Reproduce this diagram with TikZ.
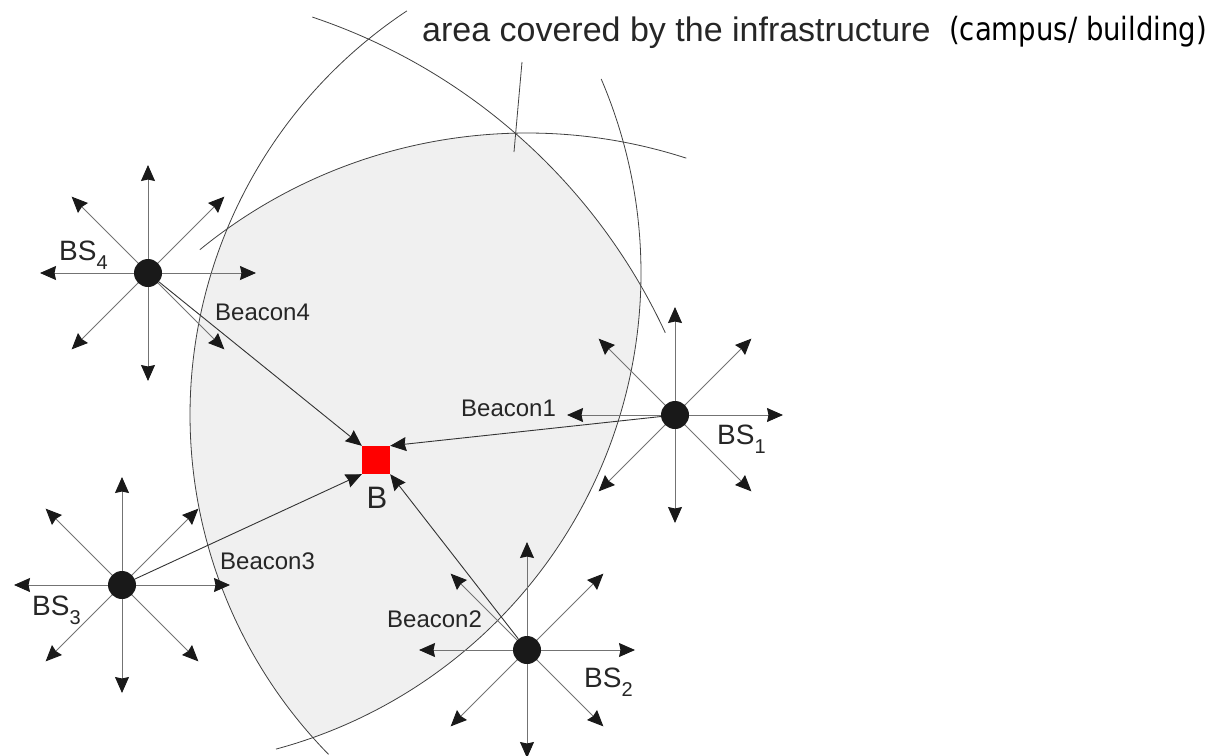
\documentclass[tikz,border=0pt]{standalone}
\usepackage{fontspec}
\setmainfont{Liberation Sans}
\newfontfamily\tahomalike{DejaVu Sans}
\usetikzlibrary{arrows.meta}
\newcommand\bssub[1]{\raisebox{-9pt}{\fontsize{20}{20}\selectfont #1}}
\begin{document}
\begin{tikzpicture}[x=1pt,y=1pt,
  arcline/.style={draw=black!75, line width=0.8pt},
  ray/.style={draw=black!55, line width=0.9pt, -{Stealth[length=16pt,width=14pt,inset=1.5pt,color=black!90]}},
  beacon/.style={draw=black!80, line width=0.9pt, -{Stealth[length=16pt,width=14pt,inset=1.5pt,color=black!90]}},
  bsdot/.style={circle, fill=black!90, minimum size=28pt, inner sep=0pt},
  lbl/.style={font=\fontsize{24}{24}\selectfont, text=black!85, anchor=base west, inner sep=0pt},
  bslbl/.style={font=\fontsize{28}{28}\selectfont, text=black!85, anchor=base west, inner sep=0pt},
]
\useasboundingbox (0,0) rectangle (1222,-755);

% shaded coverage area: intersection of the four discs
\begin{scope}
  \clip (675,-415) circle[radius=485pt];
  \clip (122,-585) circle[radius=599pt];
  \clip (527,-650) circle[radius=517pt];
  \fill[black!6] (148,-273) circle[radius=493pt];
\end{scope}

% circle arcs
\draw[arcline] (675,-415) ++(123.56:485pt) arc[start angle=123.56, end angle=224.41, radius=485pt];
\draw[arcline] (122,-585) ++(71.47:599pt) arc[start angle=71.47, end angle=24.90, radius=599pt];
\draw[arcline] (527,-650) ++(129.26:517pt) arc[start angle=129.26, end angle=72.06, radius=517pt];
\draw[arcline] (148,-273) ++(23.18:493pt) arc[start angle=23.18, end angle=-74.95, radius=493pt];
\draw[arcline] (522,-62) -- (514,-152);

% base station centres
\coordinate (c1) at (675,-415);
\coordinate (c2) at (527,-650);
\coordinate (c3) at (122,-585);
\coordinate (c4) at (148,-273);

% radiating arrows
\foreach \n in {c1,c2,c3,c4}
  \foreach \a in {0,45,...,315}
    \draw[ray] (\n) -- ++(\a:108pt);

% dots
\node[bsdot] (bs1) at (c1) {};
\node[bsdot] (bs2) at (c2) {};
\node[bsdot] (bs3) at (c3) {};
\node[bsdot] (bs4) at (c4) {};

% target
\node[fill=red, minimum size=28pt, inner sep=0pt] (B) at (376,-460) {};

% beacons
\draw[beacon] (bs4) -- (B.north west);
\draw[beacon] (bs1) -- (B.north east);
\draw[beacon] (bs3) -- (B.south west);
\draw[beacon] (bs2) -- (B.south east);

% labels
\node[bslbl] (l4) at (59,-260) {BS\bssub{4}};
\node[bslbl] (l1) at (717,-444) {BS\bssub{1}};
\node[bslbl] (l3) at (32,-615) {BS\bssub{3}};
\node[bslbl] (l2) at (584,-687) {BS\bssub{2}};
\node[lbl] (b4) at (215,-320) {Beacon4};
\node[lbl] (b1) at (461,-416) {Beacon1};
\node[lbl] (b3) at (220,-569) {Beacon3};
\node[lbl] (b2) at (387,-627) {Beacon2};
\node[anchor=base, inner sep=0pt, font=\fontsize{31}{31}\selectfont, text=black!85] (Bl) at (377,-508) {B};

% title
\node[anchor=base west, inner sep=0pt, font=\fontsize{34}{34}\selectfont, text=black!85] (t1) at (422,-41) {area covered by the infrastructure};
\node[anchor=base west, inner sep=0pt, font=\tahomalike\fontsize{32}{32}\selectfont] (t2) at (949,-40) {\scalebox{0.86}[1]{(campus/ building)}};
\end{tikzpicture}
\end{document}
